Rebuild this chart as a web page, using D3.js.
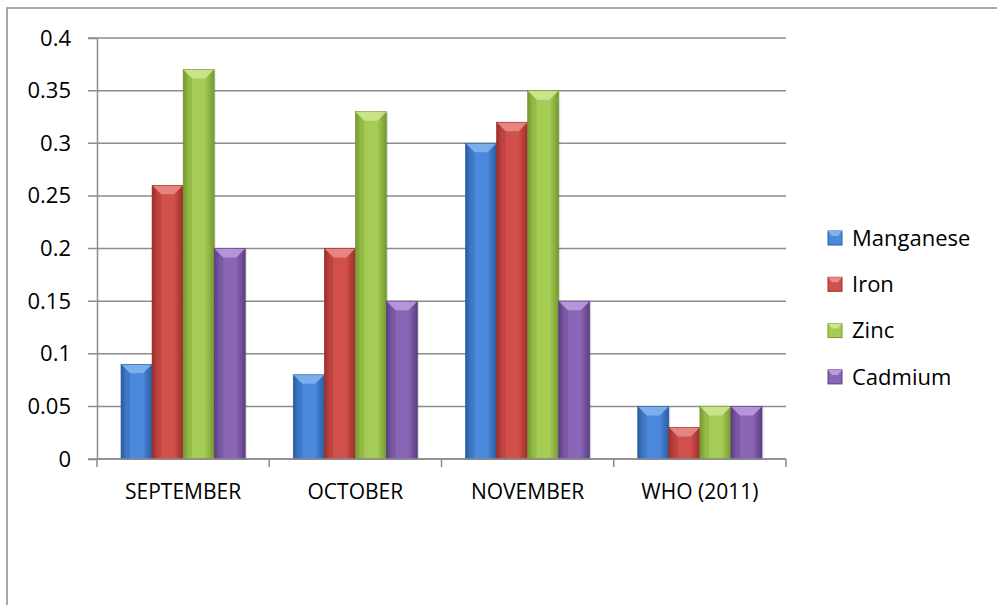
<!DOCTYPE html>
<html>
<head>
<meta charset="utf-8">
<script src="https://d3js.org/d3.v7.min.js"></script>
<style>
  body { margin: 0; background: #fff; }
  svg { display: block; }
</style>
</head>
<body>
<div class="vis"></div>
<script>
    var months = ["SEPTEMBER", "OCTOBER", "NOVEMBER", "WHO (2011)"];
    var metals = ["Manganese", "Iron", "Zinc", "Cadmium"];
    var manganese = [0.09, 0.08, 0.30, 0.05];
    var iron = [0.26, 0.20, 0.32, 0.03];
    var zinc = [0.37, 0.33, 0.35, 0.05];
    var cadmium = [0.20, 0.15, 0.15, 0.05];
    var yTicks = [0, 0.05, 0.1, 0.15, 0.2, 0.25, 0.3, 0.35, 0.4];

    var width = 997, height = 605;
    var margin = { top: 38, right: 211, bottom: 146, left: 97 };

    var series = [manganese, iron, zinc, cadmium];
    // colour ramps: edge, mid, light (for the bevel)
    var colors = [
        { edge: "#2a5d9f", mid: "#4a89dc", light: "#7fb2ee" },
        { edge: "#9c2d2a", mid: "#d1504b", light: "#ea8a86" },
        { edge: "#76982f", mid: "#a5cc55", light: "#cde58f" },
        { edge: "#5b3f82", mid: "#8a66b6", light: "#b89ade" }
    ];

    var svg = d3.select(".vis")
        .append("svg")
        .attr("width", width)
        .attr("height", height)
        .attr("font-family", "'Open Sans', sans-serif");

    var defs = svg.append("defs");
    colors.forEach(function (c, i) {
        var g = defs.append("linearGradient")
            .attr("id", "grad" + i)
            .attr("x1", "0%").attr("x2", "100%")
            .attr("y1", "0%").attr("y2", "0%");
        g.append("stop").attr("offset", "0%").attr("stop-color", c.edge);
        g.append("stop").attr("offset", "18%").attr("stop-color", c.mid);
        g.append("stop").attr("offset", "70%").attr("stop-color", c.mid);
        g.append("stop").attr("offset", "100%").attr("stop-color", c.edge);
    });

    // outer chart border (runs off the right and bottom)
    svg.append("rect")
        .attr("x", 7).attr("y", 8)
        .attr("width", 1000).attr("height", 700)
        .attr("fill", "none")
        .attr("stroke", "#8c8c8c")
        .attr("stroke-width", 1.5);

    var x0 = d3.scaleBand()
        .domain(months)
        .range([margin.left, width - margin.right])
        .paddingInner(0)
        .paddingOuter(0);

    var x1 = d3.scaleBand()
        .domain(metals)
        .range([24, x0.bandwidth() - 24]);

    var y = d3.scaleLinear()
        .domain([0, 0.4])
        .range([height - margin.bottom, margin.top]);

    // gridlines
    svg.append("g")
        .selectAll("line")
        .data(yTicks)
        .join("line")
        .attr("x1", margin.left - 9)
        .attr("x2", width - margin.right)
        .attr("y1", d => y(d))
        .attr("y2", d => y(d))
        .attr("stroke", "#8c8c8c")
        .attr("stroke-width", 1.5);

    // y axis
    var yAxis = svg.append("g")
        .attr("transform", `translate(${margin.left},0)`)
        .call(d3.axisLeft(y).tickValues(yTicks).tickFormat(d => String(d)).tickSize(9).tickPadding(17));
    yAxis.select(".domain").attr("stroke", "#8c8c8c").attr("stroke-width", 1.5);
    yAxis.selectAll(".tick line").remove();
    yAxis.selectAll(".tick text").attr("font-size", 22).attr("fill", "#000");
    yAxis.attr("font-family", null);

    // x axis
    var xTickPos = months.map(m => x0(m)).concat([width - margin.right]);
    svg.append("g")
        .selectAll("line")
        .data(xTickPos)
        .join("line")
        .attr("x1", d => d).attr("x2", d => d)
        .attr("y1", y(0)).attr("y2", y(0) + 8)
        .attr("stroke", "#8c8c8c")
        .attr("stroke-width", 1.5);

    svg.append("g")
        .selectAll("text")
        .data(months)
        .join("text")
        .attr("x", d => x0(d) + x0.bandwidth() / 2)
        .attr("y", y(0) + 40)
        .attr("text-anchor", "middle")
        .attr("font-size", 21)
        .text(d => d);

    // bars
    var groups = svg.append("g")
        .selectAll("g")
        .data(months)
        .join("g")
        .attr("transform", d => `translate(${x0(d)},0)`);

    groups.each(function (m, mi) {
        var g = d3.select(this);
        metals.forEach(function (s, si) {
            var v = series[si][mi];
            var bx = x1(s), bw = x1.bandwidth();
            var by = y(v), bh = y(0) - y(v);
            var c = colors[si];
            g.append("rect")
                .attr("x", bx + 1.5).attr("y", by + 1)
                .attr("width", bw).attr("height", bh)
                .attr("fill", "#000").attr("opacity", 0.12);
            g.append("rect")
                .attr("x", bx).attr("y", by)
                .attr("width", bw).attr("height", bh)
                .attr("fill", "url(#grad" + si + ")");
            var bev = Math.min(9, bh);
            g.append("path")
                .attr("d", `M${bx},${by} L${bx + bw},${by} L${bx + bw - bev},${by + bev} L${bx + bev},${by + bev} Z`)
                .attr("fill", c.light)
                .attr("opacity", 0.9);
            g.append("path")
                .attr("d", `M${bx},${by} L${bx + bev},${by + bev} L${bx + bev},${by + bh} L${bx},${by + bh} Z`)
                .attr("fill", c.edge)
                .attr("opacity", 0.35);
            g.append("rect")
                .attr("x", bx).attr("y", by)
                .attr("width", bw).attr("height", bh)
                .attr("fill", "none")
                .attr("stroke", c.edge)
                .attr("stroke-width", 0.6);
        });
    });

    // baseline on top of bars
    svg.append("line")
        .attr("x1", margin.left).attr("x2", width - margin.right)
        .attr("y1", y(0)).attr("y2", y(0))
        .attr("stroke", "#8c8c8c").attr("stroke-width", 1.5);

    // legend
    var legend = svg.append("g")
        .selectAll("g")
        .data(metals)
        .join("g")
        .attr("transform", (d, i) => `translate(828,${238 + i * 46.3})`);

    legend.append("rect")
        .attr("x", 0).attr("y", -7)
        .attr("width", 14).attr("height", 14)
        .attr("fill", (d, i) => colors[i].mid)
        .attr("stroke", (d, i) => colors[i].edge)
        .attr("stroke-width", 1);
    legend.append("path")
        .attr("d", "M0,-7 L14,-7 L10,-2 L4,-2 Z")
        .attr("fill", (d, i) => colors[i].light);

    legend.append("text")
        .attr("x", 24)
        .attr("y", 0)
        .attr("dy", "0.35em")
        .attr("font-size", 22)
        .text(d => d);
</script>
</body>
</html>
